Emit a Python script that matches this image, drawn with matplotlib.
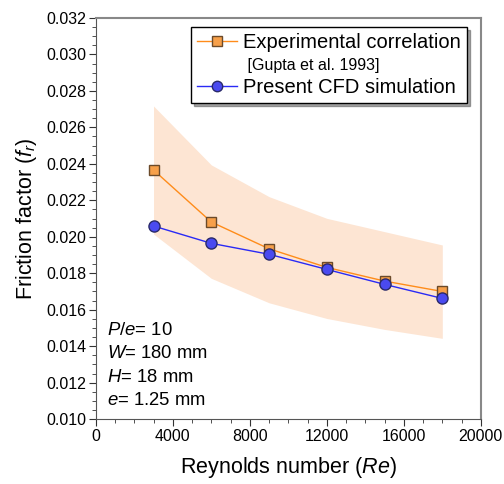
import numpy as np
import matplotlib
matplotlib.use("Agg")
import matplotlib.pyplot as plt
from matplotlib.lines import Line2D
from matplotlib.ticker import MultipleLocator

plt.rcParams['font.family'] = ['Liberation Sans', 'DejaVu Sans']
plt.rcParams['mathtext.fontset'] = 'custom'
plt.rcParams['mathtext.rm'] = 'Liberation Sans'
plt.rcParams['mathtext.it'] = 'Liberation Sans:italic'

# data
re = [3000, 6000, 9000, 12000, 15000, 18000]
f_exp = [0.02366, 0.02081, 0.01934, 0.01832, 0.01757, 0.01700]
f_cfd = [0.02059, 0.01964, 0.01904, 0.01821, 0.01739, 0.01662]
band_hi = [0.02717, 0.02394, 0.02220, 0.02101, 0.02028, 0.01955]
band_lo = [0.02015, 0.01772, 0.01638, 0.01552, 0.01492, 0.01443]
notes = ["$P/e$= 10", "$W$= 180 mm", "$H$= 18 mm", "$e$= 1.25 mm"]

fig = plt.figure(figsize=(5.04, 4.84), dpi=100)
ax = fig.add_axes([0.190, 0.134, 0.764, 0.829])

ax.fill_between(re, band_lo, band_hi, color='#fde5d3', lw=0, zorder=1)
ax.plot(re, f_exp, color='#ff8c1a', lw=1, marker='s', ms=7.5,
        mfc='#f7a04a', mec='#6b4a2a', mew=1, zorder=3)
ax.plot(re, f_cfd, color='#2a2af5', lw=1, marker='o', ms=8,
        mfc='#4a4af0', mec='#2a2a6a', mew=1, zorder=4)

ax.set_xlim(0, 20000)
ax.set_ylim(0.010, 0.032)
ax.xaxis.set_major_locator(MultipleLocator(4000))
ax.xaxis.set_minor_locator(MultipleLocator(1000))
ax.yaxis.set_major_locator(MultipleLocator(0.002))
ax.yaxis.set_minor_locator(MultipleLocator(0.0005))
ax.yaxis.set_major_formatter(plt.FormatStrFormatter('%.3f'))
ax.tick_params(which='both', direction='out', labelsize=11.5, colors='#333333',
               labelcolor='black')
ax.tick_params(which='major', length=5, pad=2)
ax.tick_params(which='minor', length=3)
for s in ['top', 'right']:
    ax.spines[s].set_color('#888888')
    ax.spines[s].set_linewidth(1.5)
for s in ['left', 'bottom']:
    ax.spines[s].set_color('#555555')

ax.set_xlabel('Reynolds number ($Re$)', fontsize=15.5, labelpad=8)
ax.set_ylabel('Friction factor ($f_r$)', fontsize=15.5, labelpad=5)

for i, t in enumerate(notes):
    ax.text(0.03, 0.222 - i * 0.0585, t, transform=ax.transAxes,
            fontsize=13.3, va='center', ha='left')

h1 = Line2D([], [], color='#ff8c1a', lw=1, marker='s', ms=7,
            mfc='#f7a04a', mec='#6b4a2a')
h2 = Line2D([], [], color='none')
h3 = Line2D([], [], color='#2a2af5', lw=1, marker='o', ms=7.5,
            mfc='#4a4af0', mec='#2a2a6a')
leg = ax.legend([h1, h2, h3],
                ['Experimental correlation', ' [Gupta et al. 1993]',
                 'Present CFD simulation'],
                loc='upper right', bbox_to_anchor=(0.975, 0.988),
                fontsize=14.5, frameon=True, fancybox=False, shadow=True,
                handlelength=2.0, handletextpad=0.3, borderpad=0.3,
                labelspacing=0.22, borderaxespad=0.2)
leg.get_frame().set_edgecolor('black')
leg.get_frame().set_linewidth(1)
leg.get_texts()[1].set_fontsize(11.5)

fig.savefig('out.png', dpi=100)
